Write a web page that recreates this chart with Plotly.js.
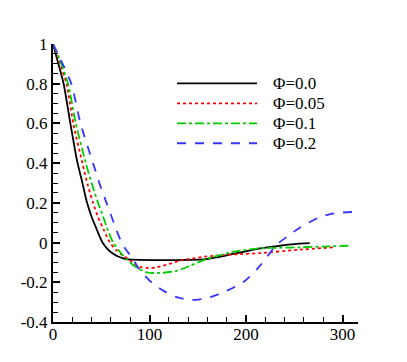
<!DOCTYPE html>
<html>
<head>
<meta charset="utf-8">
<script src="https://cdn.plot.ly/plotly-3.0.1.min.js"></script>
<style>
html,body{margin:0;padding:0;background:#fff;}
#graph1 text{font-family:"Liberation Serif","Times New Roman",serif !important;}
</style>
</head>
<body>
<div id="graph1" style="width:407px;height:362px;"></div>
<script>
(function() {
  // Phi = 0.0
  const x0 = [0, 5, 11, 18, 25, 30, 35.3, 40, 45, 51.3, 57, 62, 67.5, 72, 76, 90, 110, 130, 156, 170, 184, 200, 214.6, 235, 250, 266];
  const y0 = [1, 0.91, 0.8, 0.6, 0.41, 0.31, 0.2, 0.13, 0.07, 0, -0.035, -0.055, -0.07, -0.078, -0.083, -0.087, -0.088, -0.088, -0.085, -0.074, -0.06, -0.044, -0.029, -0.016, -0.008, -0.003];

  // Phi = 0.05
  const x1 = [0, 6, 14, 21, 30.5, 36, 41.5, 47, 53, 59, 65, 71, 78, 84, 90, 98, 107, 120, 131.5, 145, 159, 175, 194, 214.6, 255, 291];
  const y1 = [1, 0.92, 0.8, 0.6, 0.4, 0.29, 0.2, 0.125, 0.06, 0, -0.035, -0.06, -0.083, -0.106, -0.122, -0.128, -0.125, -0.108, -0.091, -0.08, -0.07, -0.063, -0.058, -0.053, -0.036, -0.024];

  // Phi = 0.1
  const x2 = [0, 7, 15.6, 23.6, 34, 40, 46.7, 52, 57, 62.3, 69, 76, 85, 97, 110.8, 128, 142, 159, 183.5, 200, 214.6, 235, 256, 280, 306];
  const y2 = [1, 0.92, 0.8, 0.6, 0.4, 0.3, 0.2, 0.13, 0.06, 0, -0.045, -0.083, -0.12, -0.15, -0.153, -0.142, -0.117, -0.083, -0.05, -0.037, -0.029, -0.026, -0.024, -0.02, -0.016];

  // Phi = 0.2
  const x3 = [0, 8, 19, 28.5, 41.5, 48, 55.4, 63, 71, 77, 83, 88, 95, 102, 116, 128, 143.7, 159, 176.5, 197, 213, 222, 232, 244, 256, 275, 291, 315];
  const y3 = [1, 0.92, 0.8, 0.6, 0.4, 0.3, 0.2, 0.1, 0, -0.045, -0.083, -0.125, -0.165, -0.2, -0.247, -0.275, -0.289, -0.28, -0.25, -0.2, -0.125, -0.07, -0.01, 0.035, 0.076, 0.125, 0.147, 0.155];

  const names = ['\u03a6=0.0', '\u03a6=0.05', '\u03a6=0.1', '\u03a6=0.2'];
  const colors = ['#000000', '#ff0000', '#00cc00', '#3535ff'];
  const dashes = ['solid', 'dot', 'dashdot', 'dash'];

  const yTicks = [-0.4, -0.2, 0, 0.2, 0.4, 0.6, 0.8, 1];
  const yLabels = ['-0.4', '-0.2', '0', '0.2', '0.4', '0.6', '0.8', '1'];
  const xTicks = [0, 100, 200, 300];
  const xLabels = ['0', '100', '200', '300'];

  const xs = [x0, x1, x2, x3];
  const ys = [y0, y1, y2, y3];

  const data = xs.map((x, i) => ({
    x: x, y: ys[i], type: 'scatter', mode: 'lines', name: names[i],
    line: {color: colors[i], dash: dashes[i], width: 1.8, shape: 'spline', smoothing: 0.7}
  }));

  const font = {family: 'Liberation Serif, Times New Roman, serif', size: 17, color: '#000'};

  // hand-drawn legend (sample line + label per series)
  const shapes = [];
  const annotations = [];
  names.forEach((n, i) => {
    const y = 0.8586 - i * 0.0719;
    shapes.push({type: 'line', xref: 'paper', yref: 'paper', x0: 0.4066, x1: 0.669, y0: y, y1: y,
      line: {color: colors[i], dash: dashes[i], width: 1.8}});
    annotations.push({xref: 'paper', yref: 'paper', x: 0.716, y: y, xanchor: 'left', yanchor: 'middle',
      text: n, showarrow: false, font: font});
  });

  const layout = {
    width: 407, height: 362,
    margin: {l: 53, r: 49, t: 44, b: 40},
    paper_bgcolor: '#fff', plot_bgcolor: '#fff',
    font: font,
    showlegend: false,
    shapes: shapes,
    annotations: annotations,
    xaxis: {
      range: [0, 316], tickvals: xTicks, ticktext: xLabels,
      showline: true, linecolor: '#000', linewidth: 2, mirror: false,
      ticks: 'inside', ticklen: 7, tickwidth: 2, tickcolor: '#000',
      minor: {dtick: 20, ticks: 'inside', ticklen: 5, tickwidth: 1, tickcolor: '#000'},
      showgrid: false, zeroline: false, tickfont: font, ticklabelstandoff: -4
    },
    yaxis: {
      range: [-0.4, 1], tickvals: yTicks, ticktext: yLabels,
      showline: true, linecolor: '#000', linewidth: 2, mirror: false,
      ticks: 'inside', ticklen: 7, tickwidth: 2, tickcolor: '#000',
      minor: {dtick: 0.05, ticks: 'inside', ticklen: 5, tickwidth: 1, tickcolor: '#000'},
      showgrid: false, zeroline: false, tickfont: font
    }
  };

  Plotly.newPlot('graph1', data, layout, {displayModeBar: false, staticPlot: true});
})();
</script>
</body>
</html>
